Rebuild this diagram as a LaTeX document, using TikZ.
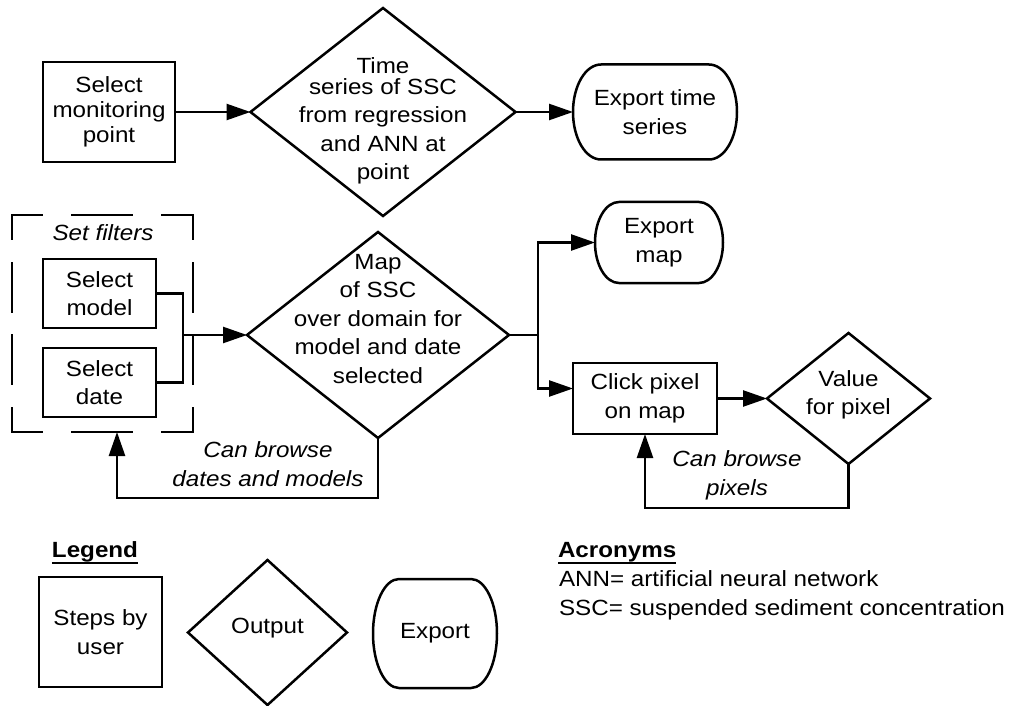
\documentclass[tikz,border=0pt]{standalone}
\usepackage{fontspec}
\setmainfont[FakeStretch=1.1]{Liberation Sans}
\usetikzlibrary{arrows.meta,shapes.geometric}

% bold heading with a thick underline
\newcommand\headline[1]{\vtop{\hbox{\bfseries #1}\kern0.6pt\hrule height 1.9pt}}
% terminal (export) outline drawn around a rectangular node: name, x radius, y radius
\newcommand\termoutline[3]{\draw[line width=2.5pt] ([xshift=#2]#1.north west) -- ([xshift=-#2]#1.north east)
  arc[start angle=90,end angle=-90,x radius=#2,y radius=#3] -- ([xshift=#2]#1.south west)
  arc[start angle=270,end angle=90,x radius=#2,y radius=#3] -- cycle;}

\begin{document}
\begin{tikzpicture}[x=1pt,y=1pt,
  stroke/.style={line width=2.5pt},
  arr/.style={stroke,-{Triangle[length=24pt,width=16pt]}},
  txt/.style={align=center,inner sep=0pt,outer sep=0pt,font=\fontsize{22}{28.5}\selectfont},
  note/.style={txt,font=\fontsize{22}{29}\selectfont\itshape},
  stepbox/.style={draw,stroke,rectangle,txt},
  outshape/.style={draw,stroke,diamond,inner sep=0pt,outer sep=0pt},
  termshape/.style={rectangle,txt}]
\useasboundingbox (0,0) rectangle (1013,-706);

% ---- time series branch
\node[stepbox,minimum width=132,minimum height=100,font=\fontsize{22}{25}\selectfont] (selmon) at (109,-112) {Select\\monitoring\\point};
\node[outshape,minimum width=265,minimum height=208] (ts) at (383,-112) {};
\node[txt] (tstxt) at (383,-121) {Time\\[-8pt]series of SSC\\from regression\\and ANN at\\point};
\node[termshape,minimum width=164,minimum height=95] (expts) at (655,-112) {Export time\\series};
\termoutline{expts}{28}{47.5}
\draw[arr] (selmon) -- (ts.west);
\draw[arr] (ts.east) -- (expts.west);

% ---- filters group
\node[rectangle,minimum width=181,minimum height=217,inner sep=0pt,outer sep=0pt] (filters) at (102.5,-323.5) {};
\draw[stroke,line cap=rect,dash pattern=on 59pt off 31pt,dash phase=29.5pt] (filters.north west) -- (filters.north east);
\draw[stroke,line cap=rect,dash pattern=on 59pt off 31pt,dash phase=29.5pt] (filters.south west) -- (filters.south east);
\draw[stroke,line cap=rect,dash pattern=on 48pt off 24.3pt,dash phase=24pt] (filters.north west) -- (filters.south west);
\draw[stroke,line cap=rect,dash pattern=on 48pt off 24.3pt,dash phase=24pt] (filters.north east) -- (filters.south east);
\node[note] (settitle) at (103,-233) {Set filters};
\node[stepbox,minimum width=113,minimum height=69] (selmodel) at (99.5,-293.5) {Select\\model};
\node[stepbox,minimum width=113,minimum height=69] (seldate) at (99.5,-382.5) {Select\\date};

% ---- map output
\node[outshape,minimum width=262,minimum height=206] (map) at (378,-335) {};
\node[txt] (maptxt) at (378,-319) {Map\\of SSC\\over domain for\\model and date\\selected};
\coordinate (join) at (183,-335);
\draw[stroke] (selmodel.east) -| (join);
\draw[stroke] (seldate.east) -| (join);
\draw[arr] (join) -- (map.west);

% ---- map exports and pixel query
\node[termshape,minimum width=128,minimum height=81] (expmap) at (659,-242.5) {Export\\map};
\termoutline{expmap}{24}{40.5}
\node[stepbox,minimum width=144,minimum height=71] (click) at (645,-398.5) {Click pixel\\on map};
\node[outshape,minimum width=163,minimum height=131] (value) at (848.5,-398.5) {};
\node[txt] (valuetxt) at (848.5,-395) {Value\\for pixel};
\coordinate (fork) at (538,-335);
\draw[stroke] (map.east) -- (fork);
\draw[arr] (fork) |- (expmap.west);
\draw[arr] (fork) |- ([yshift=10]click.west);
\draw[arr] (click.east) -- (value.west);

% ---- browse loops
\coordinate (loopL) at (117,-498);
\draw[arr] (map.south) |- (loopL) -- (loopL |- filters.south);
\node[note] (browseL) at (268,-464) {Can browse\\dates and models};
\coordinate (loopR) at (645,-508);
\draw[arr] (value.south) |- (loopR) -- (click.south);
\node[note] (browseR) at (737,-475) {Can browse\\pixels};

% ---- legend
\node[txt,anchor=base] (legtitle) at (95,-557) {\headline{Legend}};
\node[stepbox,minimum width=123,minimum height=110] (legstep) at (100.5,-632) {Steps by\\user};
\node[outshape,minimum width=159,minimum height=145] (legout) at (267.5,-632.5) {};
\node[txt] (legouttxt) at (267.5,-628) {Output};
\node[termshape,minimum width=124,minimum height=109] (legexp) at (435,-633.5) {Export};
\termoutline{legexp}{26}{54.5}

% ---- acronyms
\node[txt,anchor=base west] (acrtitle) at (558,-557) {\headline{Acronyms}};
\node[txt,anchor=base west] (acrann) at (559,-586) {ANN= artificial neural network};
\node[txt,anchor=base west] (acrssc) at (559,-615) {SSC= suspended sediment concentration};
\end{tikzpicture}
\end{document}
